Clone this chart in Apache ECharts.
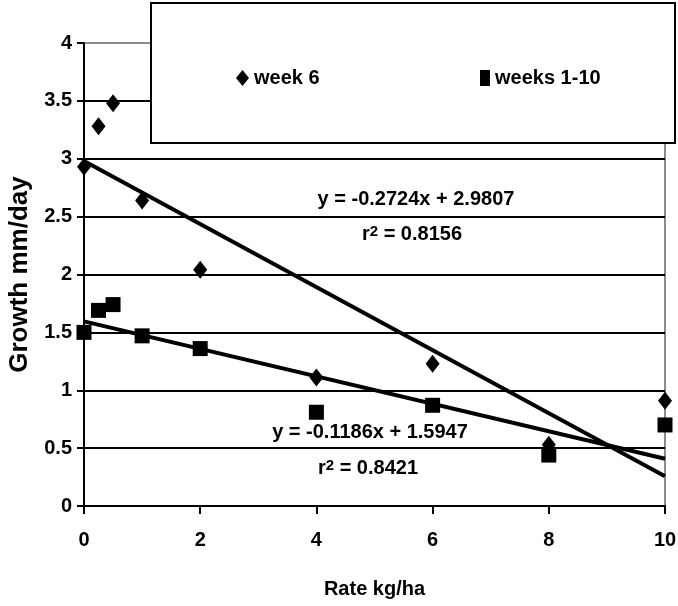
<!DOCTYPE html>
<html>
<head>
<meta charset="utf-8">
<title>Growth vs rate</title>
<script src="https://cdn.jsdelivr.net/npm/echarts@6/dist/echarts.min.js"></script>
<style>
  html, body { margin: 0; padding: 0; background: #fff; }
  #chart { width: 678px; height: 606px; }
</style>
</head>
<body>
<div id="chart"></div>
<script>
// Application rate (kg/ha)
const rates = [0, 0.25, 0.5, 1, 2, 4, 6, 8, 10];
// Growth (mm/day)
const week6 = [2.93, 3.28, 3.48, 2.64, 2.04, 1.11, 1.23, 0.53, 0.91];
const weeks1to10 = [1.50, 1.69, 1.74, 1.47, 1.36, 0.81, 0.87, 0.44, 0.70];

// Linear fits for each series
const seriesNames = ['week 6', 'weeks 1-10'];
const slopes = [-0.2724, -0.1186];
const intercepts = [2.9807, 1.5947];
const rSquared = ['0.8156', '0.8421'];

const xTicks = [0, 2, 4, 6, 8, 10];
const yTicks = [0, 0.5, 1, 1.5, 2, 2.5, 3, 3.5, 4];

const FONT = '"Liberation Sans", Arial, sans-serif';

function pairs(xs, ys) { return xs.map((x, i) => [x, ys[i]]); }
function fitLine(k) {
  const x0 = xTicks[0], x1 = xTicks[xTicks.length - 1];
  return [[x0, intercepts[k] + slopes[k] * x0], [x1, intercepts[k] + slopes[k] * x1]];
}
function eqText(k) {
  const m = slopes[k].toFixed(4), b = intercepts[k].toFixed(4);
  return 'y = ' + m + 'x + ' + b;
}

const chart = echarts.init(document.getElementById('chart'), null, { renderer: 'canvas' });

const textBase = { fontFamily: FONT, fontWeight: 'bold', color: '#000' };
const supRich = { s: { font: 'bold 15px ' + FONT, fill: '#000', verticalAlign: 'top' } };

const option = {
  animation: false,
  backgroundColor: '#fff',
  grid: {
    left: 84, right: 13, top: 43, bottom: 100,
    outerBoundsMode: 'none', containLabel: false,
    show: true, borderColor: '#8c8c8c', borderWidth: 2, backgroundColor: 'transparent'
  },
  xAxis: {
    type: 'value',
    min: xTicks[0], max: xTicks[xTicks.length - 1], interval: 2,
    name: 'Rate kg/ha', nameLocation: 'middle', nameGap: 73,
    nameTextStyle: Object.assign({ fontSize: 20 }, textBase),
    axisLine: { show: true, lineStyle: { color: '#000', width: 2 } },
    axisTick: { show: true, length: 8, lineStyle: { color: '#000', width: 2 } },
    axisLabel: Object.assign({ fontSize: 20, margin: 24 }, textBase),
    splitLine: { show: false }
  },
  yAxis: {
    type: 'value',
    min: yTicks[0], max: yTicks[yTicks.length - 1], interval: 0.5,
    name: 'Growth mm/day', nameLocation: 'middle', nameGap: 50,
    nameTextStyle: Object.assign({ fontSize: 26 }, textBase),
    axisLine: { show: true, lineStyle: { color: '#000', width: 2 } },
    axisTick: { show: true, length: 7, lineStyle: { color: '#000', width: 2 } },
    axisLabel: Object.assign({ fontSize: 20, margin: 12 }, textBase),
    splitLine: { show: true, showMaxLine: false, lineStyle: { color: '#000', width: 2 } }
  },
  legend: [
    {
      data: [{ name: seriesNames[0], icon: 'diamond' }],
      left: 231, top: 63, z: 6,
      itemWidth: 13, itemHeight: 16, symbolKeepAspect: false,
      textStyle: Object.assign({ fontSize: 20 }, textBase),
      selectedMode: false
    },
    {
      data: [{ name: seriesNames[1], icon: 'rect' }],
      left: 475, top: 63, z: 6,
      itemWidth: 10, itemHeight: 16, symbolKeepAspect: false,
      textStyle: Object.assign({ fontSize: 20 }, textBase),
      selectedMode: false
    }
  ],
  graphic: [
    {
      type: 'rect', z: 5,
      shape: { x: 151, y: 3, width: 524, height: 140 },
      style: { fill: '#fff', stroke: '#000', lineWidth: 2 }
    },
    {
      type: 'text', z: 6, x: 416, y: 199,
      style: { text: eqText(0), font: 'bold 20px ' + FONT, fill: '#000', align: 'center', verticalAlign: 'middle' }
    },
    {
      type: 'text', z: 6, x: 412, y: 234,
      style: {
        text: 'r{s|2} = ' + rSquared[0], font: 'bold 20px ' + FONT, fill: '#000',
        align: 'center', verticalAlign: 'middle', rich: supRich
      }
    },
    {
      type: 'text', z: 6, x: 370, y: 432,
      style: { text: eqText(1), font: 'bold 20px ' + FONT, fill: '#000', align: 'center', verticalAlign: 'middle' }
    },
    {
      type: 'text', z: 6, x: 368, y: 468,
      style: {
        text: 'r{s|2} = ' + rSquared[1], font: 'bold 20px ' + FONT, fill: '#000',
        align: 'center', verticalAlign: 'middle', rich: supRich
      }
    }
  ],
  series: [
    {
      name: seriesNames[0] + ' fit', type: 'line', data: fitLine(0),
      symbol: 'none', z: 2, silent: true,
      lineStyle: { color: '#000', width: 4 }
    },
    {
      name: seriesNames[1] + ' fit', type: 'line', data: fitLine(1),
      symbol: 'none', z: 2, silent: true,
      lineStyle: { color: '#000', width: 4 }
    },
    {
      name: seriesNames[0], type: 'scatter', data: pairs(rates, week6),
      symbol: 'diamond', symbolSize: [14, 18], z: 3,
      itemStyle: { color: '#000', opacity: 1 }
    },
    {
      name: seriesNames[1], type: 'scatter', data: pairs(rates, weeks1to10),
      symbol: 'rect', symbolSize: [15, 15], z: 4,
      itemStyle: { color: '#000', opacity: 1 }
    }
  ]
};

chart.setOption(option);
</script>
</body>
</html>
